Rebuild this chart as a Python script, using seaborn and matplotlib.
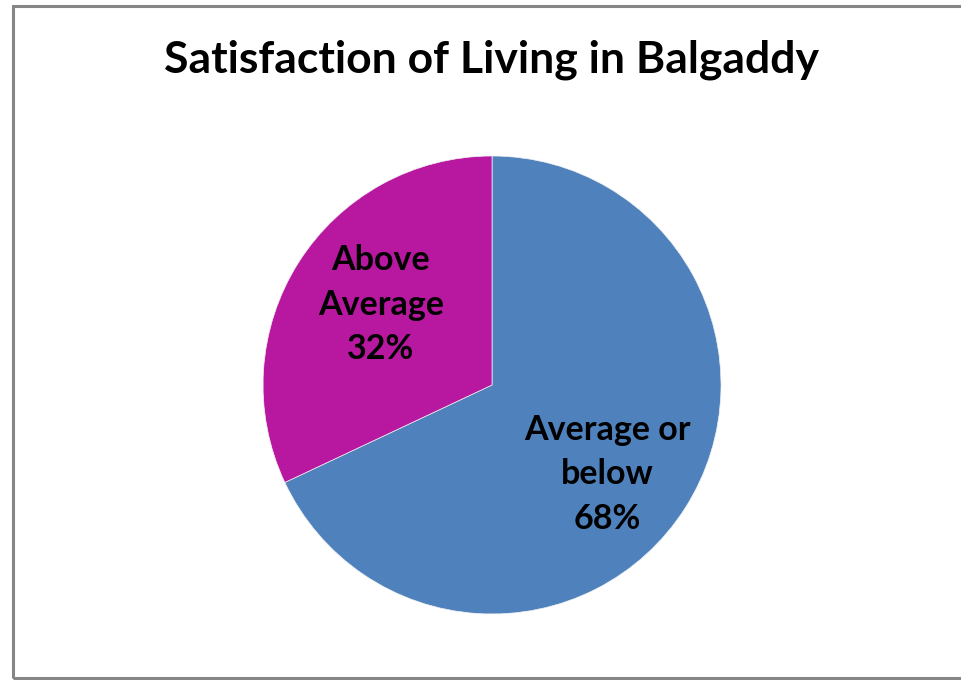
import matplotlib
matplotlib.use("Agg")
import matplotlib.pyplot as plt
import seaborn as sns

# data
categories = ["Average or\nbelow", "Above\nAverage"]
shares = [68, 32]
colours = ["#4F81BD", "#B8179F"]
title = "Satisfaction of Living in Balgaddy"

sns.set_theme(style="white")
plt.rcParams["font.family"] = ["Lato", "DejaVu Sans"]

fig = plt.figure(figsize=(9.61, 6.80), dpi=100)
fig.patch.set_facecolor("white")

# grey chart-area border (runs off the right edge like the reference)
border = plt.Rectangle((12.5 / 961, 2 / 680), 1.2, 672 / 680, transform=fig.transFigure,
                       fill=False, edgecolor="#868686", linewidth=2.2)
fig.patches.append(border)

ax = fig.add_axes([0.2737, 0.0971, 0.4766, 0.6735])
labels = [f"{c}\n{s}%" for c, s in zip(categories, shares)]
wedges, texts = ax.pie(shares, labels=labels, colors=colours, startangle=90,
                       counterclock=False, labeldistance=0.6,
                       wedgeprops=dict(edgecolor="#f2f2f2", linewidth=0.5),
                       textprops=dict(fontsize=24.5, fontweight="bold", color="black",
                                      ha="center", va="center", linespacing=1.48))
texts[0].set_position((0.505, -0.39))
texts[1].set_position((-0.485, 0.35))
ax.set_xlim(-1, 1)
ax.set_ylim(-1, 1)
ax.set_aspect("equal")

fig.text(492 / 961, 1 - 60 / 680, title, ha="center", va="center",
         fontsize=32, fontweight="bold", color="black")

fig.savefig("out.png", dpi=100)
